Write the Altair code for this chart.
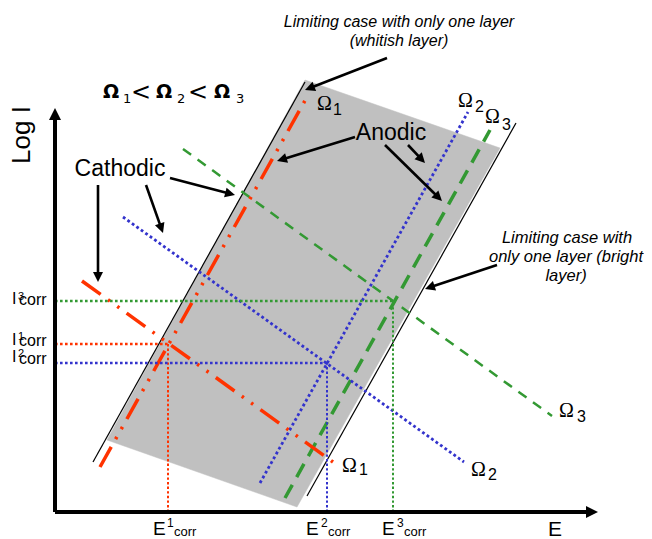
import math
import altair as alt
import pandas as pd

# ---------------- data (schematic units: E to the right, log I upward, origin at axes corner)
band_E = [52, 250, 445, 242, 52]
band_I = [72, 432, 364, 5, 72]

edge_left_E, edge_left_I = [38, 250], [50, 430]
edge_right_E, edge_right_I = [252, 461], [16, 389]

anodic1_E, anodic1_I = [45, 252], [45, 415]
cathodic1_E, cathodic1_I = [27, 278], [231, 50]
anodic2_E, anodic2_I = [205, 413], [29, 400]
cathodic2_E, cathodic2_I = [68, 409], [295, 50]
anodic3_E, anodic3_I = [230, 435], [14, 382]
cathodic3_E, cathodic3_I = [128, 497], [363, 96]

E_corr = [113, 272, 338]
I_corr = [168, 149, 211]

axis_x1, axis_y1 = [0, 0], [0, 0]
axis_x2, axis_y2 = [543, 0], [0, 404]

arrow_x1 = [332, 43, 91, 115, 300, 330, 353, 442]
arrow_y1 = [454, 327, 327, 334, 375, 367, 367, 247]
arrow_x2 = [250, 43, 108, 180, 222, 387, 370, 370]
arrow_y2 = [422, 230, 279, 317, 351, 311, 349, 223]

# inequality "Ω1 < Ω2 < Ω3"
ineq_omega_x = [48, 101, 159]
ineq_omega_y = [414, 414, 414]
ineq_text = ["1", "<", "2", "<", "3"]
ineq_x = [68, 76, 122, 133, 181]
ineq_y = [409, 412, 409, 412, 409]
ineq_size = [13, 24, 13, 24, 13]

# tick labels and Ω subscripts
sans_text = ["I", "3", "corr", "I", "1", "corr", "I", "2", "corr",
             "E", "1", "corr", "E", "2", "corr", "E", "3", "corr",
             "1", "2", "3", "1", "2", "3"]
sans_x = [-43, -37, -36, -43, -37, -36, -43, -37, -36,
          98, 112, 119, 251, 266, 273, 327, 342, 349,
          278, 420, 447, 304, 433, 522]
sans_y = [208, 212, 207, 167, 172, 166, 150, 155, 148,
          -23, -15, -24, -23, -15, -24, -23, -15, -24,
          397, 400, 382, 37, 32, 90]
sans_size = [16, 11, 16, 16, 11, 16, 16, 11, 16,
             19, 12, 13, 19, 12, 13, 19, 12, 13,
             16, 16, 16, 16, 16, 16]

omega_x = [262, 403, 430, 287, 416, 504]
omega_y = [402, 405, 389, 40, 36, 95]

big_text = ["Cathodic", "Anodic", "E"]
big_x = [65, 336, 500]
big_y = [336, 372, -24]
big_size = [23, 23, 21]

note_text = ["Limiting case with only one layer", "(whitish layer)",
             "Limiting case with", "only one layer (bright", "layer)"]
note_x = [344, 344, 512, 511, 511]
note_y = [485, 466, 269, 250, 231]
note_size = [16, 16, 16.5, 16.5, 16.5]

RED, BLUE, GREEN, GRAY = "#FF3300", "#3333CC", "#339933", "#C0C0C0"

# ---------------- chart
xs = alt.Scale(domain=[-47, 589], nice=False, zero=False)
ys = alt.Scale(domain=[-27, 504], nice=False, zero=False)
X = lambda f: alt.X(f, type="quantitative", scale=xs, axis=None)
Y = lambda f: alt.Y(f, type="quantitative", scale=ys, axis=None)


def seg(E, I, color, width, dash=None):
    df = pd.DataFrame({"x": E, "y": I, "o": list(range(len(E)))})
    kw = dict(color=color, strokeWidth=width, strokeCap="butt")
    if dash:
        kw["strokeDash"] = dash
    return alt.Chart(df).mark_line(**kw).encode(x=X("x"), y=Y("y"), order="o:Q")


band = alt.Chart(pd.DataFrame({"x": band_E, "y": band_I, "o": range(len(band_E))})).mark_line(
    fill=GRAY, stroke=GRAY, strokeWidth=0.5
).encode(x=X("x"), y=Y("y"), order="o:Q")

layers = [band,
          seg(edge_left_E, edge_left_I, "black", 1.2),
          seg(edge_right_E, edge_right_I, "black", 1.2),
          seg(cathodic3_E, cathodic3_I, GREEN, 2.5, [10, 8]),
          seg(anodic3_E, anodic3_I, GREEN, 3.5, [15, 9]),
          seg(cathodic2_E, cathodic2_I, BLUE, 2.8, [2.8, 2.7]),
          seg(anodic2_E, anodic2_I, BLUE, 2.8, [2.8, 2.7]),
          seg(cathodic1_E, cathodic1_I, RED, 3.5, [23, 9, 2.5, 9, 2.5, 9]),
          seg(anodic1_E, anodic1_I, RED, 3.5, [23, 9, 2.5, 9, 2.5, 9])]

for e, i, c in zip(E_corr, I_corr, [RED, BLUE, GREEN]):
    layers.append(seg([0, e], [i, i], c, 2.6, [2.6, 2.4]))
    layers.append(seg([e, e], [0, i], c, 2.0, [2.4, 2.2]))


def arrows(x1, y1, x2, y2, width, head_size, shrink):
    rows = []
    for a, b, c, d in zip(x1, y1, x2, y2):
        L = math.hypot(c - a, d - b)
        ux, uy = (c - a) / L, (d - b) / L
        ang = math.degrees(math.atan2(c - a, d - b)) % 360
        rows.append({"x1": a, "y1": b, "xs": c - ux * shrink, "ys": d - uy * shrink,
                     "x2": c, "y2": d, "ang": ang})
    df = pd.DataFrame(rows)
    shaft = alt.Chart(df).mark_rule(color="black", strokeWidth=width, strokeCap="butt").encode(
        x=X("x1"), y=Y("y1"), x2="xs:Q", y2="ys:Q")
    head = alt.Chart(df).mark_point(
        shape="M0,0L0.5,1L-0.5,1Z", filled=True, color="black", opacity=1, size=head_size
    ).encode(x=X("x2"), y=Y("y2"), angle=alt.Angle("ang:Q", scale=None))
    return [shaft, head]


layers += arrows(axis_x1, axis_y1, axis_x2, axis_y2, 4, 576, 8)
layers += arrows(arrow_x1, arrow_y1, arrow_x2, arrow_y2, 2.6, 400, 6)


def texts(x, y, t, size=None, **mark):
    df = pd.DataFrame({"x": x, "y": y, "t": t})
    enc = dict(x=X("x"), y=Y("y"), text="t:N")
    if size is not None:
        df["s"] = size
        enc["size"] = alt.Size("s:Q", scale=None)
    base = dict(color="black", baseline="alphabetic", align="left")
    base.update(mark)
    return alt.Chart(df).mark_text(**base).encode(**enc)


layers.append(texts(ineq_omega_x, ineq_omega_y, ["Ω"] * 3, font="DejaVu Sans",
                    fontWeight="bold", fontSize=19))
layers.append(texts(ineq_x, ineq_y, ineq_text, ineq_size, font="DejaVu Sans"))
layers.append(texts(sans_x, sans_y, sans_text, sans_size, font="Liberation Sans"))
layers.append(texts(omega_x, omega_y, ["Ω"] * len(omega_x), font="Liberation Serif", fontSize=20))
layers.append(texts(big_x, big_y, big_text, big_size, font="Liberation Sans", align="center"))
layers.append(texts(note_x, note_y, note_text, note_size, font="Liberation Sans",
                    fontStyle="italic", align="center"))
layers.append(texts([-33], [377], ["Log I"], font="Liberation Sans", fontSize=26, angle=270,
                    align="center", baseline="middle"))

chart = alt.layer(*layers).properties(
    width=636, height=531, padding=0, autosize=alt.AutoSizeParams(type="none"),
    background="white"
).configure_view(strokeWidth=0)

chart.save("out.html", embed_options={"renderer": "svg", "actions": False})
